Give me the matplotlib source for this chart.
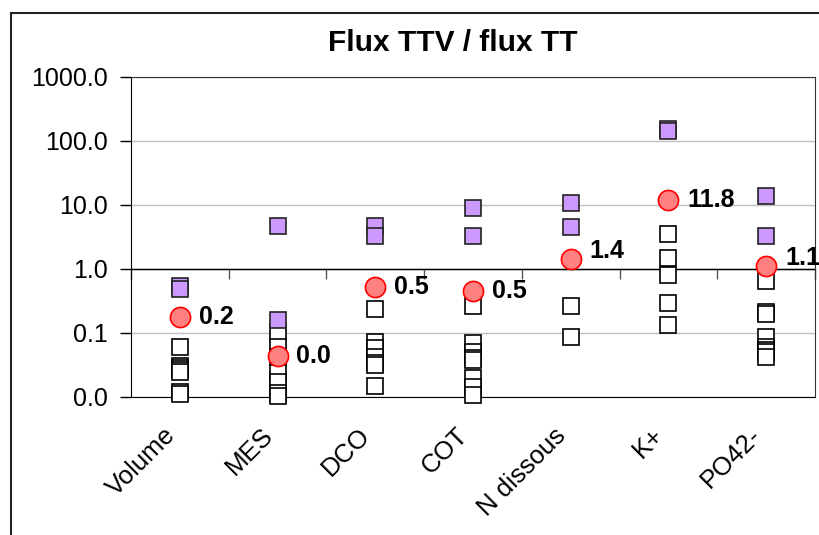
import numpy as np
import matplotlib.pyplot as plt
from matplotlib.patches import Rectangle
from matplotlib.ticker import FixedLocator, FuncFormatter

plt.rcParams['font.family'] = ['Liberation Sans', 'DejaVu Sans']

parametres = ['Volume', 'MES', 'DCO', 'COT', 'N dissous', 'K+', 'PO42-']

# rapports par evenement (carres blancs)
rapports = [
    [0.06, 0.030, 0.028, 0.026, 0.025, 0.012, 0.011],
    [0.104, 0.060, 0.042, 0.024, 0.017, 0.0115, 0.0105],
    [0.237, 0.072, 0.058, 0.042, 0.034, 0.032, 0.015],
    [0.26, 0.070, 0.050, 0.041, 0.038, 0.020, 0.0145, 0.0108],
    [0.26, 0.087],
    [3.5, 1.48, 0.81, 0.295, 0.133],
    [0.65, 0.21, 0.20, 0.087, 0.060, 0.054, 0.050, 0.042],
]

# valeurs hautes (carres violets)
rapports_hauts = [
    [0.55, 0.49],
    [4.7, 0.16],
    [4.7, 3.3],
    [9.0, 3.3],
    [10.7, 4.5],
    [155, 145],
    [13.8, 3.3],
]

# moyennes (ronds rouges)
moyennes = [0.18, 0.044, 0.52, 0.46, 1.42, 11.8, 1.11]

# petit decalage vertical des etiquettes (points)
decalage_etiq = [0, 0, 0, 0, 6, 0, 6]

fig = plt.figure(figsize=(8.19, 5.35), dpi=100)
ax = fig.add_axes([131 / 819, 138 / 535, 684 / 819, 320 / 535])

x = np.arange(len(parametres))

for i, vals in enumerate(rapports):
    ax.plot([x[i]] * len(vals), vals, 's', ms=11.5, mfc='white', mec='black',
            mew=1.2, zorder=3, clip_on=False)
for i, vals in enumerate(rapports_hauts):
    ax.plot([x[i]] * len(vals), vals, 's', ms=11.5, mfc='#CC99FF', mec='#222222',
            mew=1.2, zorder=4, clip_on=False)
ax.plot(x, moyennes, 'o', ms=14.5, mfc='#FF8080', mec='#FF0000', mew=1.2,
        zorder=5, clip_on=False)

for i, m in enumerate(moyennes):
    ax.annotate(f'{m:.1f}', (x[i], m), xytext=(13.5, decalage_etiq[i]),
                textcoords='offset points', ha='left', va='center',
                fontsize=18, fontweight='bold', zorder=6, annotation_clip=False)

ax.set_yscale('log')
ax.set_ylim(0.01, 1000)
ax.set_xlim(-0.5, len(parametres) - 0.5)
ax.yaxis.set_major_locator(FixedLocator([0.01, 0.1, 1, 10, 100, 1000]))
ax.yaxis.set_minor_locator(FixedLocator([]))
ax.yaxis.set_major_formatter(FuncFormatter(lambda v, p: f'{v:.1f}'))
ax.tick_params(axis='y', direction='out', length=8, width=1, pad=9,
               labelsize=18)
ax.grid(axis='y', color='#C0C0C0', lw=1)
ax.set_axisbelow(True)

ax.set_xticks(x)
ax.set_xticklabels(parametres, rotation=45, ha='right', va='bottom',
                   rotation_mode='anchor', fontsize=18.5)
ax.tick_params(axis='x', length=0, pad=31)

# axe horizontal qui coupe a 1.0
sec = ax.secondary_xaxis(0.4)
sec.set_xticks(np.arange(-0.5, len(parametres), 1.0))
sec.tick_params(direction='out', length=7, width=1, labelbottom=False,
                labeltop=False, color='#555555')
sec.spines['bottom'].set_color('black')
ax.axhline(1, color='black', lw=1, zorder=2)

for s in ['left', 'bottom']:
    ax.spines[s].set_color('black')
for s in ['top', 'right']:
    ax.spines[s].set_color('#333333')

fig.text(453 / 819, 1 - 43 / 535, 'Flux TTV / flux TT', ha='center',
         va='center', fontsize=21.5, fontweight='bold')

fig.add_artist(Rectangle((11 / 819, -0.1), 2, 1.1 - 13 / 535,
                         transform=fig.transFigure, fill=False,
                         edgecolor='#222222', lw=1.5))

fig.savefig('out.png', dpi=100)
